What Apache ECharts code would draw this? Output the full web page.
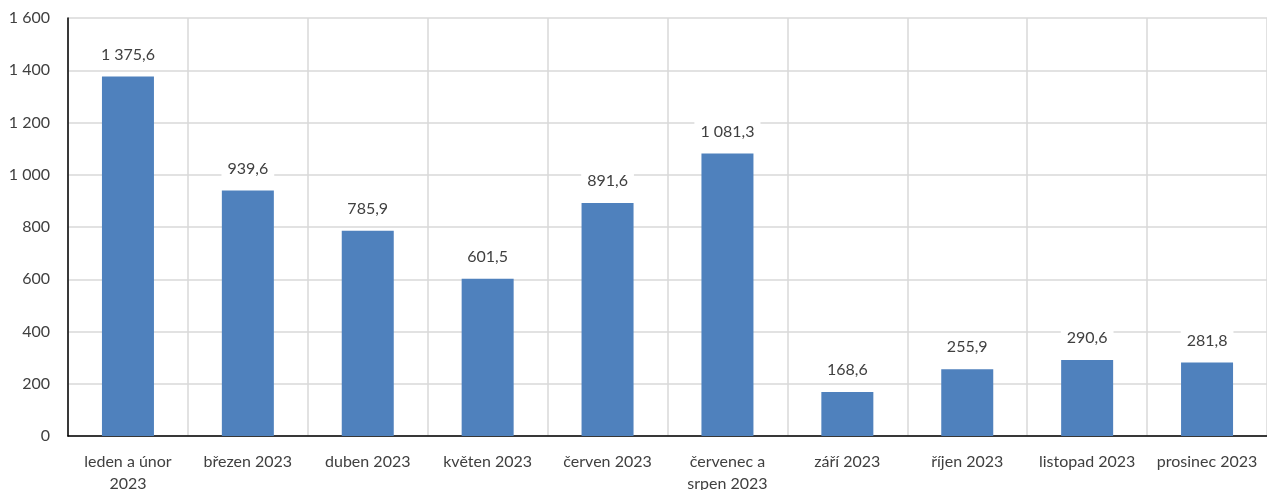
<!DOCTYPE html>
<html><head><meta charset="utf-8">
<script src="https://cdn.jsdelivr.net/npm/echarts@6/dist/echarts.min.js"></script>
<style>html,body{margin:0;padding:0;background:#fff}#c{width:1267px;height:490px}</style>
</head><body><div id="c"></div>
<script>
const categories = ['leden a únor\n2023','březen 2023','duben 2023','květen 2023','červen 2023','červenec a\nsrpen 2023','září 2023','říjen 2023','listopad 2023','prosinec 2023'];
const values = [1375.6, 939.6, 785.9, 601.5, 891.6, 1081.3, 168.6, 255.9, 290.6, 281.8];
const yMin = 0, yMax = 1600, yStep = 200;

function czNum(v, dec) {
  const s = v.toFixed(dec);
  const parts = s.split('.');
  const intPart = parts[0].replace(/\B(?=(\d{3})+(?!\d))/g, ' ');
  return parts.length > 1 ? intPart + ',' + parts[1] : intPart;
}
const FONT = 'Lato, "Open Sans", sans-serif';
const chart = echarts.init(document.getElementById('c'));
chart.setOption({
  animation: false,
  grid: { left: 68, right: 0, top: 18, bottom: 54, containLabel: false, outerBoundsMode: 'none' },
  xAxis: {
    type: 'category', data: categories,
    axisLine: { lineStyle: { color: '#000', width: 1.5 } },
    axisTick: { show: false },
    splitLine: { show: true, interval: 0, lineStyle: { color: '#d9d9d9', width: 1.5 } },
    axisLabel: { interval: 0, color: '#404040', fontSize: 16, fontFamily: FONT, margin: 15, lineHeight: 22 }
  },
  yAxis: {
    type: 'value', min: yMin, max: yMax, interval: yStep,
    axisLine: { show: true, lineStyle: { color: '#000', width: 1.5 } },
    axisTick: { show: false },
    splitLine: { lineStyle: { color: '#d9d9d9', width: 1.5 } },
    axisLabel: { color: '#404040', fontSize: 16, fontFamily: FONT, margin: 18, formatter: v => czNum(v, 0) }
  },
  series: [{
    type: 'bar', data: values, barWidth: 52,
    itemStyle: { color: '#4f81bd' },
    label: {
      show: true, position: 'top', distance: 11,
      color: '#404040', fontSize: 16, fontFamily: FONT,
      backgroundColor: '#fff', padding: [3, 6],
      formatter: p => czNum(p.value, 1)
    }
  }]
});
</script></body></html>
